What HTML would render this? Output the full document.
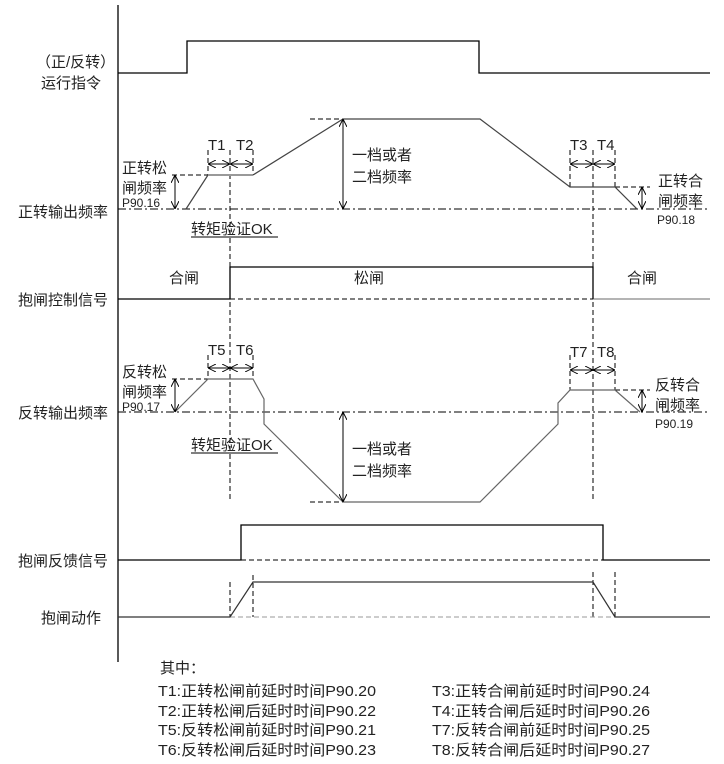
<!DOCTYPE html>
<html><head><meta charset="utf-8"><style>
html,body{margin:0;padding:0;background:#fff;}
svg{display:block;}
text{font-family:"Liberation Sans","Noto Sans CJK SC",sans-serif;fill:#222;}
</style></head><body>
<svg width="724" height="764" viewBox="0 0 724 764" xmlns="http://www.w3.org/2000/svg">
<defs>
<marker id="a" viewBox="0 0 10 10" refX="10" refY="5" markerWidth="8" markerHeight="8" orient="auto-start-reverse"><path d="M0,0 L10,5 L0,10" fill="none" stroke="#000" stroke-width="1.2"/></marker>
</defs>
<g stroke="#000" stroke-width="1.3" fill="none">
<line x1="118" y1="5" x2="118" y2="662"/>
<polyline points="118,73 187,73 187,41 479,41 479,73 710,73"/>
<polyline points="118,299 230,299 230,267 593,267 593,299"/>
<line x1="593" y1="299" x2="710" y2="299" stroke="#888"/>
<polyline points="118,560 241,560 241,525 603,525 603,560 710,560"/>
</g>
<g stroke="#000" stroke-width="1" fill="none" stroke-dasharray="5,3">
<line x1="230" y1="299" x2="593" y2="299"/>
<line x1="241" y1="560" x2="603" y2="560"/>
<line x1="172" y1="175" x2="208" y2="175"/>
<line x1="310" y1="119" x2="343" y2="119"/>
<line x1="615" y1="187" x2="650" y2="187"/>
<line x1="172" y1="379" x2="208" y2="379"/>
<line x1="310" y1="502" x2="343" y2="502"/>
<line x1="615" y1="390" x2="650" y2="390"/>
<line x1="230" y1="150" x2="230" y2="500"/>
<line x1="593" y1="150" x2="593" y2="500"/>
<line x1="208" y1="150" x2="208" y2="175"/>
<line x1="253" y1="150" x2="253" y2="175"/>
<line x1="570" y1="150" x2="570" y2="187"/>
<line x1="615" y1="150" x2="615" y2="187"/>
<line x1="208" y1="355" x2="208" y2="379"/>
<line x1="253" y1="355" x2="253" y2="379"/>
<line x1="570" y1="355" x2="570" y2="390"/>
<line x1="615" y1="355" x2="615" y2="390"/>
<line x1="230" y1="582" x2="230" y2="617"/>
<line x1="253" y1="575" x2="253" y2="617"/>
<line x1="593" y1="572" x2="593" y2="617"/>
<line x1="615" y1="572" x2="615" y2="617"/>
<line x1="230" y1="617" x2="615" y2="617" stroke="#999"/>
</g>
<g stroke="#000" stroke-width="1" fill="none" stroke-dasharray="8,3,2,3">
<line x1="118" y1="209" x2="710" y2="209"/>
<line x1="118" y1="412" x2="710" y2="412"/>
</g>
<g stroke="#444" stroke-width="1.2" fill="none">
<polyline points="186,209 208,175"/>
<polyline points="208,175 253,175" stroke="#999" stroke-width="2"/>
<polyline points="253,175 343,119 480,119 570,187 615,187 637,209"/>
<polyline points="175,412 208,379 253,379 264,399 264,424 343,502 480,502 558,424 558,403 570,390 615,390 640,412" stroke="#666"/>
<polyline points="118,617 230,617 253,582 593,582 615,617 710,617" stroke="#333"/>
</g>
<g stroke="#000" stroke-width="1" fill="none" marker-start="url(#a)" marker-end="url(#a)">
<line x1="175" y1="175" x2="175" y2="209"/>
<line x1="343" y1="119" x2="343" y2="209"/>
<line x1="642" y1="187" x2="642" y2="209"/>
<line x1="175" y1="379" x2="175" y2="412"/>
<line x1="343" y1="412" x2="343" y2="502"/>
<line x1="642" y1="390" x2="642" y2="412"/>
<line x1="208" y1="164" x2="230" y2="164"/>
<line x1="230" y1="164" x2="253" y2="164"/>
<line x1="570" y1="164" x2="593" y2="164"/>
<line x1="593" y1="164" x2="615" y2="164"/>
<line x1="208" y1="368" x2="230" y2="368"/>
<line x1="230" y1="368" x2="253" y2="368"/>
<line x1="570" y1="370" x2="593" y2="370"/>
<line x1="593" y1="370" x2="615" y2="370"/>
</g>
<g font-size="15">
<text x="36" y="67">（正/反转）</text>
<text x="41" y="88">运行指令</text>
<text x="18" y="217">正转输出频率</text>
<text x="18" y="305">抱闸控制信号</text>
<text x="18" y="418">反转输出频率</text>
<text x="18" y="566">抱闸反馈信号</text>
<text x="41" y="623">抱闸动作</text>
<text x="208" y="150">T1</text><text x="236" y="150">T2</text>
<text x="570" y="150">T3</text><text x="597" y="150">T4</text>
<text x="208" y="355">T5</text><text x="236" y="355">T6</text>
<text x="570" y="357">T7</text><text x="597" y="357">T8</text>
<text x="122" y="173">正转松</text><text x="122" y="193">闸频率</text>
<text x="122" y="377">反转松</text><text x="122" y="397">闸频率</text>
<text x="658" y="186">正转合</text><text x="658" y="206">闸频率</text>
<text x="655" y="390">反转合</text><text x="655" y="410">闸频率</text>
<text x="352" y="160">一档或者</text><text x="352" y="182">二档频率</text>
<text x="352" y="454">一档或者</text><text x="352" y="476">二档频率</text>
<text x="169" y="283">合闸</text><text x="354" y="283">松闸</text><text x="627" y="283">合闸</text>
<text x="191" y="234">转矩验证OK</text>
<text x="191" y="450">转矩验证OK</text>
</g>
<g stroke="#000" stroke-width="1"><line x1="191" y1="237" x2="278" y2="237"/><line x1="191" y1="453" x2="278" y2="453"/></g>
<g font-size="12">
<text x="122" y="207">P90.16</text>
<text x="122" y="411">P90.17</text>
<text x="657" y="224">P90.18</text>
<text x="655" y="428">P90.19</text>
</g>
<g font-size="15">
<text x="160" y="673">其中：</text>
<text x="158" y="696" textLength="218" lengthAdjust="spacingAndGlyphs">T1:正转松闸前延时时间P90.20</text>
<text x="158" y="716" textLength="218" lengthAdjust="spacingAndGlyphs">T2:正转松闸后延时时间P90.22</text>
<text x="158" y="735" textLength="218" lengthAdjust="spacingAndGlyphs">T5:反转松闸前延时时间P90.21</text>
<text x="158" y="755" textLength="218" lengthAdjust="spacingAndGlyphs">T6:反转松闸后延时时间P90.23</text>
<text x="432" y="696" textLength="218" lengthAdjust="spacingAndGlyphs">T3:正转合闸前延时时间P90.24</text>
<text x="432" y="716" textLength="218" lengthAdjust="spacingAndGlyphs">T4:正转合闸后延时时间P90.26</text>
<text x="432" y="735" textLength="218" lengthAdjust="spacingAndGlyphs">T7:反转合闸前延时时间P90.25</text>
<text x="432" y="755" textLength="218" lengthAdjust="spacingAndGlyphs">T8:反转合闸后延时时间P90.27</text>
</g>
</svg>
</body></html>
